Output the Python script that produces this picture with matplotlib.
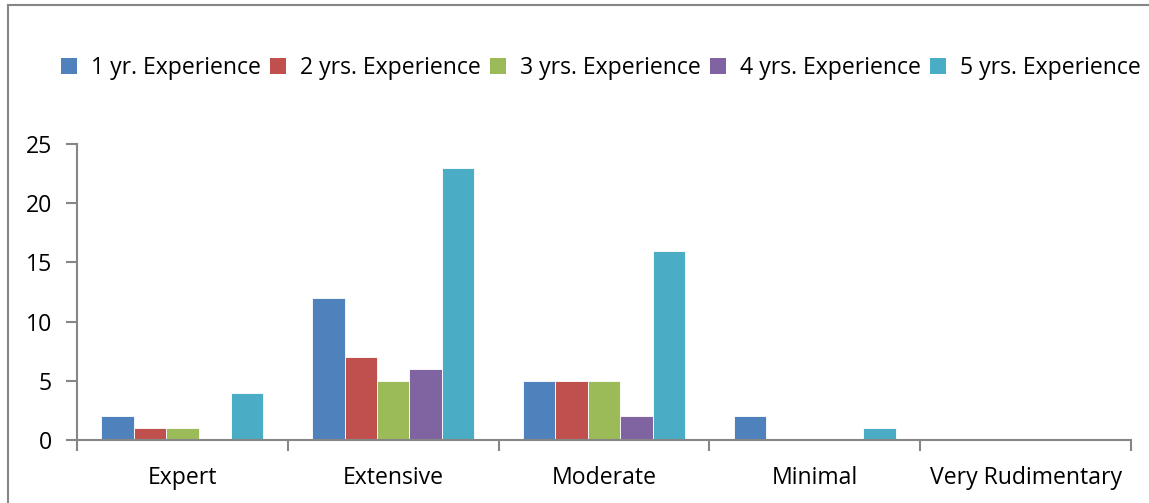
import matplotlib
matplotlib.use("Agg")
import matplotlib.pyplot as plt
from matplotlib.patches import Patch
from matplotlib.lines import Line2D
import numpy as np

categories = ["Expert", "Extensive", "Moderate", "Minimal", "Very Rudimentary"]
series_names = ["1 yr. Experience", "2 yrs. Experience", "3 yrs. Experience",
                "4 yrs. Experience", "5 yrs. Experience"]
yr1 = [2, 12, 5, 2, 0]
yr2 = [1, 7, 5, 0, 0]
yr3 = [1, 5, 5, 0, 0]
yr4 = [0, 6, 2, 0, 0]
yr5 = [4, 23, 16, 1, 0]
values = [yr1, yr2, yr3, yr4, yr5]
colors = ["#4F81BD", "#C0504D", "#9BBB59", "#8064A2", "#4BACC6"]

plt.rcParams["font.family"] = ["Open Sans", "DejaVu Sans"]
FS = 16.6
GRAY = "#868686"

W, H = 1149, 503
fig = plt.figure(figsize=(W / 100, H / 100), dpi=100)
ax = fig.add_axes([77 / W, (H - 440) / H, (1131 - 77) / W, (440 - 144) / H])

x = np.arange(len(categories))
bw = 1 / 6.5
for i, (vals, c) in enumerate(zip(values, colors)):
    ax.bar(x + (i - 2) * bw, vals, width=bw, color=c, edgecolor="white",
           linewidth=0.6, zorder=2)

ax.set_xlim(-0.5, len(categories) - 0.5)
ax.set_ylim(0, 25)
ax.set_yticks(range(0, 26, 5))
ax.tick_params(axis="y", direction="out", length=8, color=GRAY, width=1.5,
               labelsize=FS, pad=10)
ax.set_xticks(x)
ax.set_xticklabels(categories)
ax.tick_params(axis="x", which="major", length=0, labelsize=FS, pad=19)
ax.set_xticks(np.arange(-0.5, len(categories), 1), minor=True)
ax.tick_params(axis="x", which="minor", direction="out", length=8, color=GRAY, width=1.5)

for s in ["top", "right"]:
    ax.spines[s].set_visible(False)
for s in ["left", "bottom"]:
    ax.spines[s].set_color(GRAY)
    ax.spines[s].set_linewidth(1.5)

handles = [Patch(facecolor=c, edgecolor="none") for c in colors]
fig.legend(handles, series_names, loc="center", bbox_to_anchor=(601 / W, 1 - 68 / H),
           ncol=5, frameon=False, fontsize=FS, handlelength=0.7, handleheight=0.7,
           handletextpad=0.6, columnspacing=0.4)

# chart border (outer frame, cut off at right/bottom)
fig.add_artist(Line2D([8 / W, 1], [1 - 5 / H, 1 - 5 / H], color=GRAY, lw=1.5,
                      transform=fig.transFigure))
fig.add_artist(Line2D([8 / W, 8 / W], [0, 1 - 5 / H], color=GRAY, lw=1.5,
                      transform=fig.transFigure))

fig.savefig("out.png", dpi=100)
